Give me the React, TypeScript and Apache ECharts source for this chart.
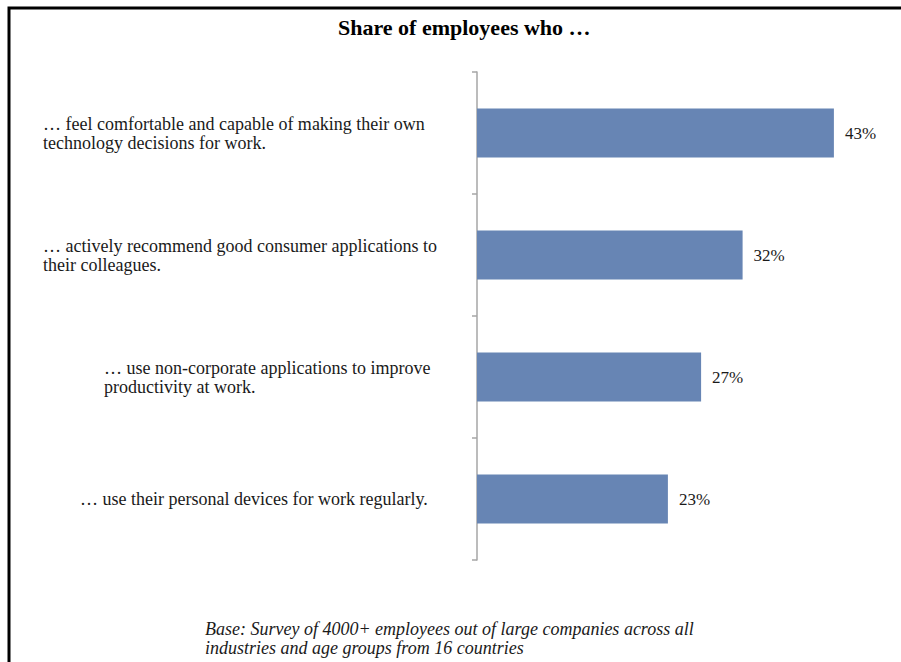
import React, { useEffect, useRef } from "react";
import * as echarts from "echarts";

const categories: string[][] = [
  ["… feel comfortable and capable of making their own", "technology decisions for work."],
  ["… actively recommend good consumer applications to", "their colleagues."],
  ["… use non-corporate applications to improve", "productivity at work."],
  ["… use their personal devices for work regularly."],
];
const values: number[] = [43, 32, 27, 23];
const titleText = "Share of employees who …";
const footnoteLines: string[] = [
  "Base: Survey of 4000+ employees out of large companies across all",
  "industries and age groups from 16 countries",
];

const labelBlockWidths = [418, 418, 357, 381];
const FONT = "'Liberation Serif', 'Times New Roman', serif";

export default function App() {
  const ref = useRef<HTMLDivElement>(null);
  useEffect(() => {
    if (!ref.current) return;
    const chart = echarts.init(ref.current, undefined, { renderer: "svg" });
    const rich: Record<string, any> = {};
    labelBlockWidths.forEach((w, i) => {
      rich["r" + i] = {
        width: w,
        align: "left",
        fontFamily: FONT,
        fontSize: 18,
        lineHeight: 19,
        color: "#1a1a1a",
      };
    });
    const catKeys = categories.map((_, i) => String(i));
    chart.setOption({
      animation: false,
      backgroundColor: "#ffffff",
      title: [
        {
          text: titleText,
          left: 333,
          top: 11,
          textStyle: { fontFamily: FONT, fontSize: 22, fontWeight: "bold", color: "#000" },
        },
        {
          text: footnoteLines.join("\n"),
          left: 200,
          top: 614,
          textStyle: {
            fontFamily: FONT,
            fontSize: 18,
            fontStyle: "italic",
            fontWeight: "normal",
            lineHeight: 19,
            color: "#1a1a1a",
          },
        },
      ],
      graphic: [
        {
          type: "rect",
          shape: { x: 9, y: 8, width: 1200, height: 1200 },
          style: { fill: "none", stroke: "#000", lineWidth: 3 },
          silent: true,
        },
      ],
      grid: { left: 477, right: 9, top: 72, bottom: 102, containLabel: false },
      xAxis: {
        type: "value",
        min: 0,
        max: 50,
        show: false,
      },
      yAxis: {
        type: "category",
        inverse: true,
        data: catKeys,
        axisLine: { show: true, lineStyle: { color: "#a6a6a6", width: 1.5 } },
        axisTick: { show: true, length: 5, lineStyle: { color: "#a6a6a6", width: 1.5 } },
        splitLine: { show: false },
        axisLabel: {
          margin: 16,
          align: "right",
          formatter: (v: string) => {
            const i = Number(v);
            return categories[i].map((l) => `{r${i}|${l}}`).join("\n");
          },
          rich,
        },
      },
      series: [
        {
          type: "bar",
          data: values,
          barWidth: 49,
          itemStyle: { color: "#6785b4" },
          label: {
            show: true,
            position: "right",
            distance: 11,
            formatter: "{c}%",
            fontFamily: FONT,
            fontSize: 17,
            color: "#1a1a1a",
          },
        },
      ],
    });
    return () => chart.dispose();
  }, []);
  return (
    <div
      ref={ref}
      style={{ position: "absolute", left: 0, top: 0, width: 901, height: 662 }}
    />
  );
}
